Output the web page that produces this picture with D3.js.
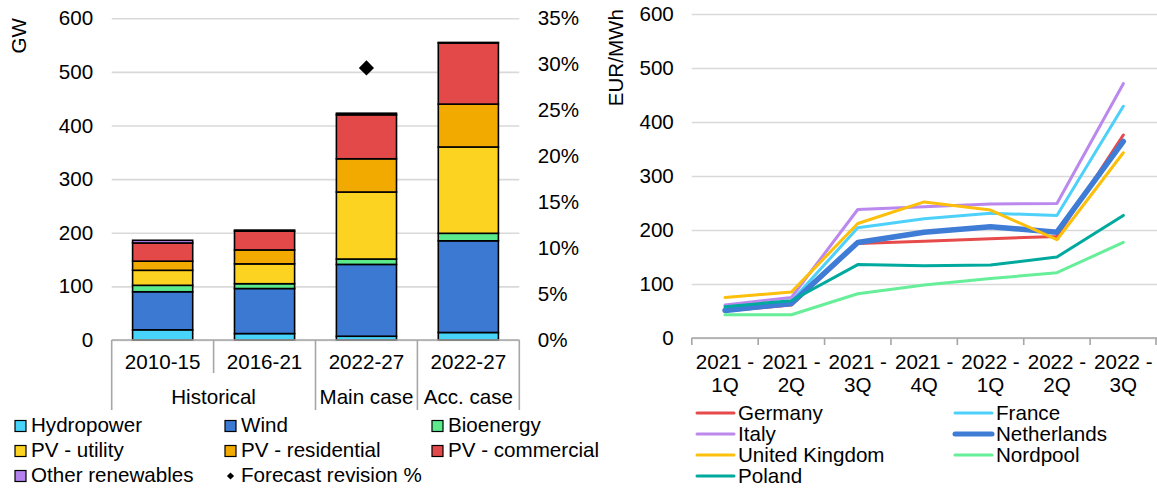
<!DOCTYPE html>
<html><head><meta charset="utf-8">
<script src="https://cdn.jsdelivr.net/npm/d3@7"></script>
<style>
body{margin:0;background:#fff}
svg{display:block}
text{font-family:"Liberation Sans",Arial,Helvetica,sans-serif;fill:#000}
</style>
</head><body>
<svg id="c" width="1157" height="489"></svg>
<script>
// ---------- Left chart data ----------
const categories = ["2010-15", "2016-21", "2022-27", "2022-27"];
const groupLabels = ["Historical", "Main case", "Acc. case"];
const groupSpans = [2, 1, 1];
const seriesNames = ["Hydropower", "Wind", "Bioenergy", "PV - utility", "PV - residential", "PV - commercial", "Other renewables"];
const hydropower = [19, 12, 7, 14];
const wind = [71, 84, 134, 171];
const bioenergy = [12, 9, 10, 14];
const pvUtility = [28, 37, 125, 161];
const pvResidential = [17, 26, 62, 80];
const pvCommercial = [34, 35, 82, 114];
const otherRenewables = [5, 2, 3, 1];
const forecastRevision = [null, null, 0.296, null];
const gwTicks = [0, 100, 200, 300, 400, 500, 600];
const pctTicks = [0, 0.05, 0.10, 0.15, 0.20, 0.25, 0.30, 0.35];
const barColors = ["#47d3fa", "#3c79d3", "#5beb8c", "#fdd322", "#f2a900", "#e4494a", "#b382ec"];

// ---------- Right chart data ----------
const quarters = [["2021 -", "1Q"], ["2021 -", "2Q"], ["2021 -", "3Q"], ["2021 -", "4Q"], ["2022 -", "1Q"], ["2022 -", "2Q"], ["2022 -", "3Q"]];
const countries = ["Germany", "France", "Italy", "Netherlands", "United Kingdom", "Nordpool", "Poland"];
const germany = [50, 61, 175, 179, 184, 188, 376];
const france = [55, 68, 204, 221, 231, 227, 429];
const italy = [61, 75, 238, 243, 248, 249, 471];
const netherlands = [51, 64, 177, 196, 206, 196, 364];
const unitedKingdom = [75, 85, 212, 252, 237, 182, 343];
const nordpool = [43, 43, 82, 98, 110, 121, 177];
const poland = [58, 69, 136, 134, 135, 150, 227];
const priceTicks = [0, 100, 200, 300, 400, 500, 600];
const lineColors = ["#e64a4a", "#4dd0fa", "#bb88ee", "#3f7cd6", "#fcbf0b", "#66ee99", "#00a99d"];
const lineWidths = [3, 3, 3, 5.5, 3, 3, 3];

const FS = 20.6;
const svg = d3.select("#c");
const GRID = "#d9d9d9", AX = "#a6a6a6";

// ================= LEFT CHART =================
const L = {left: 111.7, right: 519.3, top: 18.3, bottom: 340};
const x = d3.scaleBand().domain(d3.range(categories.length)).range([L.left, L.right])
  .paddingInner(0.41).paddingOuter(0.205);
const y = d3.scaleLinear().domain([0, 600]).range([L.bottom, L.top]);
const y2 = d3.scaleLinear().domain([0, 0.35]).range([L.bottom, L.top]);

const gl = svg.append("g");
// gridlines + left labels
const yAxisL = gl.append("g").attr("transform", `translate(${L.left},0)`)
  .call(d3.axisLeft(y).tickValues(gwTicks).tickSize(-(L.right - L.left)).tickPadding(18.5));
yAxisL.select(".domain").remove();
yAxisL.selectAll(".tick line").attr("stroke", GRID).attr("stroke-width", 1.6);
yAxisL.selectAll(".tick text").style("font-size", FS + "px").style("font-family", "Liberation Sans, Arial, sans-serif").attr("fill", "#000");

const yAxisR = gl.append("g").attr("transform", `translate(${L.right},0)`)
  .call(d3.axisRight(y2).tickValues(pctTicks).tickSize(0).tickPadding(18.5).tickFormat(d3.format(".0%")));
yAxisR.select(".domain").remove();
yAxisR.selectAll(".tick text").style("font-size", FS + "px").style("font-family", "Liberation Sans, Arial, sans-serif").attr("fill", "#000");

// GW title
gl.append("text").attr("transform", `translate(26,18) rotate(-90)`).attr("text-anchor", "end")
  .style("font-size", FS + "px").text("GW");

// stacked bars
const barRows = categories.map((c, i) => ({
  i, v: [hydropower[i], wind[i], bioenergy[i], pvUtility[i], pvResidential[i], pvCommercial[i], otherRenewables[i]]
}));
const stack = d3.stack().keys(d3.range(seriesNames.length)).value((d, k) => d.v[k]);
const stacked = stack(barRows);
gl.append("g").selectAll("g").data(stacked).join("g")
  .attr("fill", (d, k) => barColors[k])
  .selectAll("rect").data(d => d).join("rect")
  .attr("x", d => x(d.data.i)).attr("width", x.bandwidth())
  .attr("y", d => y(d[1])).attr("height", d => y(d[0]) - y(d[1]))
  .attr("stroke", "#000").attr("stroke-width", 1.6);

// forecast revision diamond
gl.append("g").selectAll("path").data(forecastRevision.map((v, i) => ({v, i})).filter(d => d.v != null)).join("path")
  .attr("d", d3.symbol(d3.symbolSquare, 115))
  .attr("transform", d => `translate(${x(d.i) + x.bandwidth() / 2},${y2(d.v)}) rotate(45)`)
  .attr("fill", "#000");

// category axis (multi-level)
const ax = gl.append("g").attr("stroke", AX).attr("stroke-width", 1.6);
ax.append("line").attr("x1", L.left).attr("x2", L.right).attr("y1", L.bottom).attr("y2", L.bottom);
const step = x.step();
const bounds = d3.range(categories.length + 1).map(k => L.left + k * step);
let groupEdges = [0];
groupSpans.forEach(s => groupEdges.push(groupEdges[groupEdges.length - 1] + s));
bounds.forEach((bx, k) => {
  const full = groupEdges.includes(k);
  ax.append("line").attr("x1", bx).attr("x2", bx).attr("y1", L.bottom).attr("y2", full ? 410 : 373);
});
gl.append("g").selectAll("text").data(categories).join("text")
  .attr("x", (d, i) => x(i) + x.bandwidth() / 2).attr("y", 362).attr("dy", "0.35em")
  .attr("text-anchor", "middle").style("font-size", FS + "px").text(d => d);
gl.append("g").selectAll("text").data(groupLabels).join("text")
  .attr("x", (d, g) => L.left + (groupEdges[g] + groupEdges[g + 1]) / 2 * step).attr("y", 397).attr("dy", "0.35em")
  .attr("text-anchor", "middle").style("font-size", FS + "px").text(d => d);

// left legend
const legL = seriesNames.map((n, k) => ({name: n, type: "sq", color: barColors[k]}));
legL.push({name: "Forecast revision %", type: "dia"});
const colX = [15, 225, 432];
const rowY = [426, 451, 476];
const lg = gl.append("g").selectAll("g").data(legL).join("g")
  .attr("transform", (d, k) => `translate(${colX[k % 3]},${rowY[Math.floor(k / 3)]})`);
lg.filter(d => d.type === "sq").append("rect").attr("x", 0).attr("y", -5.5).attr("width", 11).attr("height", 11)
  .attr("fill", d => d.color).attr("stroke", "#000").attr("stroke-width", 1.2);
lg.filter(d => d.type === "dia").append("path").attr("d", d3.symbol(d3.symbolSquare, 26))
  .attr("transform", "translate(5.5,0) rotate(45)").attr("fill", "#000");
lg.append("text").attr("x", 16).attr("y", -1).attr("dy", "0.35em").style("font-size", FS + "px").text(d => d.name);

// ================= RIGHT CHART =================
const R = {left: 691.8, right: 1156.5, top: 14, bottom: 338};
const xq = d3.scaleBand().domain(d3.range(quarters.length)).range([R.left, R.right]);
const yp = d3.scaleLinear().domain([0, 600]).range([R.bottom, R.top]);
const gr = svg.append("g");
const ypAxis = gr.append("g").attr("transform", `translate(${R.left},0)`)
  .call(d3.axisLeft(yp).tickValues(priceTicks).tickSize(-(1157 - R.left)).tickPadding(18));
ypAxis.select(".domain").remove();
ypAxis.selectAll(".tick line").attr("stroke", GRID).attr("stroke-width", 1.6);
ypAxis.selectAll(".tick text").style("font-size", FS + "px").style("font-family", "Liberation Sans, Arial, sans-serif").attr("fill", "#000");

gr.append("text").attr("transform", `translate(623,9) rotate(-90)`).attr("text-anchor", "end")
  .style("font-size", FS + "px").text("EUR/MWh");

// x axis
const xa = gr.append("g").attr("stroke", AX).attr("stroke-width", 1.6);
xa.append("line").attr("x1", R.left).attr("x2", 1157).attr("y1", R.bottom).attr("y2", R.bottom);
d3.range(quarters.length + 1).forEach(k => {
  const bx = Math.min(R.left + k * xq.step(), 1156);
  xa.append("line").attr("x1", bx).attr("x2", bx).attr("y1", R.bottom).attr("y2", R.bottom + 7);
});
const ql = gr.append("g").selectAll("text").data(quarters).join("text")
  .attr("text-anchor", "middle").style("font-size", FS + "px")
  .attr("transform", (d, i) => `translate(${xq(i) + xq.bandwidth() / 2},0)`);
ql.append("tspan").attr("x", 0).attr("y", 361.5).attr("dy", "0.35em").text(d => d[0]);
ql.append("tspan").attr("x", 0).attr("y", 385).attr("dy", "0.35em").text(d => d[1]);

// lines
const seriesData = [germany, france, italy, netherlands, unitedKingdom, nordpool, poland];
const line = d3.line().x((d, i) => xq(i) + xq.bandwidth() / 2).y(d => yp(d));
gr.append("g").selectAll("path").data(seriesData).join("path")
  .attr("d", d => line(d)).attr("fill", "none")
  .attr("stroke", (d, k) => lineColors[k]).attr("stroke-width", (d, k) => lineWidths[k])
  .attr("stroke-linejoin", "round").attr("stroke-linecap", "round");

// right legend
const rcolLine = [697, 955];
const rrowY = [413, 434, 455, 476];
const rl = gr.append("g").selectAll("g").data(countries).join("g")
  .attr("transform", (d, k) => `translate(${rcolLine[k % 2]},${rrowY[Math.floor(k / 2)]})`);
rl.append("line").attr("x1", 0).attr("x2", 37).attr("y1", 0).attr("y2", 0)
  .attr("stroke", (d, k) => lineColors[k]).attr("stroke-width", (d, k) => lineWidths[k] === 3 ? 3 : 5)
  .attr("stroke-linecap", "round");
rl.append("text").attr("x", 41).attr("y", 0).attr("dy", "0.35em").style("font-size", FS + "px").text(d => d);
</script>
</body></html>
